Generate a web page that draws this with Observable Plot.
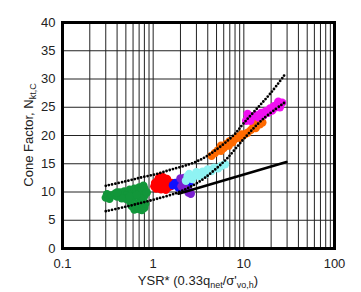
<!DOCTYPE html>
<html>
<head>
<meta charset="utf-8">
<script src="https://cdn.jsdelivr.net/npm/d3@7"></script>
<script src="https://cdn.jsdelivr.net/npm/@observablehq/plot@0.6"></script>
<style>
  html, body { margin: 0; padding: 0; background: #fff; }
</style>
</head>
<body>
<div id="chart"></div>
<script>
const xTicks = [0.1, 1, 10, 100];
const yTicks = [0, 5, 10, 15, 20, 25, 30, 35, 40];
const gridX = [0.1,0.2,0.3,0.4,0.5,0.6,0.7,0.8,0.9,1,2,3,4,5,6,7,8,9,10,20,30,40,50,60,70,80,90,100];

const upperBound = [[0.3,11.1],[0.5,11.9],[0.75,12.6],[1.1,13.2],[1.6,14.0],[2.5,14.9],[3.5,15.9],[4.5,17.0],[6,18.5],[8,20.3],[10,22.2],[14,24.8],[20,27.6],[29,31.0]];
const lowerBound = [[0.3,6.6],[0.5,7.4],[0.75,8.1],[1.1,8.8],[1.8,9.8],[2.5,10.8],[3.5,12.2],[4.6,13.7],[6.5,15.9],[10,19.4],[16,22.8],[28,25.8]];
const solidLine = [[1.9,9.7],[29.5,15.3]];

const green = [[0.30,9.0],[0.31,9.6],[0.33,8.8],[0.35,9.4],[0.38,9.7],[0.40,9.2],[0.43,9.9],[0.46,9.4],[0.48,10.1],[0.52,9.6],[0.55,10.4],[0.58,9.8],[0.62,10.6],[0.65,10.0],[0.70,10.8],[0.74,10.3],[0.78,11.1],[0.80,10.6],[0.60,9.0],[0.56,8.2],[0.58,7.5],[0.62,6.9],[0.66,7.4],[0.70,7.0],[0.75,6.8],[0.80,7.2],[0.82,7.9],[0.78,8.5],[0.80,9.3],[0.72,9.0],[0.50,8.8],[0.45,8.9],[0.85,9.9],[0.68,8.0],[0.40,9.9],[0.55,9.2],[0.66,9.5]];
const red = [[1.03,11.0],[1.05,11.6],[1.08,10.6],[1.12,11.9],[1.15,12.4],[1.2,11.2],[1.22,10.5],[1.28,12.6],[1.3,11.8],[1.35,11.0],[1.38,10.4],[1.42,12.3],[1.48,11.5],[1.55,11.0],[1.6,11.6],[1.2,12.7],[1.1,11.3],[1.25,11.8],[1.45,10.8]];
const blue = [[1.65,11.2],[1.75,11.6],[1.85,11.2],[1.95,11.8],[2.05,11.4],[2.2,11.6],[2.35,11.3],[2.5,11.6],[1.9,10.8]];
const purple = [[2.0,12.4],[2.1,12.0],[2.15,11.2],[2.05,11.0],[2.3,10.6],[2.5,10.2],[2.6,9.7],[2.45,9.9],[2.2,12.5]];
const cyan = [[2.3,12.0],[2.4,12.8],[2.5,13.2],[2.7,12.3],[2.9,12.9],[3.0,13.5],[3.3,12.8],[3.5,13.6],[3.8,13.2],[4.0,14.0],[4.4,13.7],[4.7,14.3],[5.2,14.2],[5.6,14.6],[6.2,14.9]];
const orange = [[4.4,16.4],[4.8,16.9],[5.2,17.4],[5.6,17.3],[5.6,18.2],[6.0,17.8],[6.4,18.5],[6.8,18.2],[7.0,19.0],[7.5,18.8],[8.0,19.4],[8.5,19.8],[9.0,19.6],[9.5,20.2],[10.2,20.2],[11.0,20.5],[12.0,21.0],[12.8,21.6],[13.5,21.3],[14.2,22.0],[15.0,22.0],[16.0,22.3],[13.0,22.3]];
const magenta = [[10.6,22.6],[11.2,23.2],[11.0,23.8],[11.8,22.6],[12.5,23.4],[13.5,23.6],[14.5,23.2],[15.5,24.0],[16.5,23.6],[17.5,24.3],[18.5,24.0],[19.5,24.8],[20.5,24.4],[21.5,25.2],[22.5,25.0],[23.5,25.6],[25,25.6],[26.5,25.8],[25,25.0],[24,26.0]];

const X = d => d[0], Y = d => d[1];
const dots = (data, color) => Plot.dot(data, {x: X, y: Y, r: 4.2, fill: color});
const dotted = data => Plot.line(data, {x: X, y: Y, curve: "catmull-rom", stroke: "#000", strokeWidth: 2.8, strokeDasharray: "0,3.3", strokeLinecap: "round"});

const chart = Plot.plot({
  width: 361,
  height: 292,
  marginLeft: 62,
  marginRight: 27,
  marginTop: 22,
  marginBottom: 44,
  style: {fontFamily: "'Liberation Sans', Arial, sans-serif", fontSize: "13px", color: "#222", background: "#fff"},
  x: {type: "log", domain: [0.1, 100]},
  y: {domain: [0, 40]},
  marks: [
    Plot.ruleX(gridX, {stroke: "#222", strokeWidth: 1}),
    Plot.ruleY(yTicks, {stroke: "#222", strokeWidth: 1}),
    dots(green, "#12963a"),
    dots(red, "#ff0000"),
    dots(blue, "#1010ff"),
    dots(purple, "#7a1fd0"),
    dots(cyan, "#8ff3f3"),
    dots(orange, "#ff6a00"),
    dots(magenta, "#f010f0"),
    dotted(upperBound),
    dotted(lowerBound),
    Plot.line(solidLine, {x: X, y: Y, stroke: "#000", strokeWidth: 2.6}),
    Plot.frame({stroke: "#000", strokeWidth: 3}),
    Plot.axisX({ticks: xTicks, tickFormat: d => String(d), tickSize: 0, tickPadding: 10, label: null}),
    Plot.axisY({ticks: yTicks, tickSize: 0, tickPadding: 7, label: null})
  ]
});

document.getElementById("chart").appendChild(chart);

const svg = d3.select(chart);
const xt = svg.append("text")
  .attr("x", 198).attr("y", 285)
  .attr("text-anchor", "middle")
  .attr("fill", "#222")
  .style("font-size", "13px");
xt.append("tspan").text("YSR* (0.33q");
xt.append("tspan").attr("dy", 3).style("font-size", "9px").text("net");
xt.append("tspan").attr("dy", -3).text("/σ'");
xt.append("tspan").attr("dy", 3).style("font-size", "9px").text("vo,h");
xt.append("tspan").attr("dy", -3).text(")");

const yt = svg.append("text")
  .attr("transform", "translate(33,135) rotate(-90)")
  .attr("text-anchor", "middle")
  .attr("fill", "#222")
  .style("font-size", "13px");
yt.append("tspan").text("Cone Factor, N");
yt.append("tspan").attr("dy", 3).style("font-size", "9px").text("kt,C");
</script>
</body>
</html>
